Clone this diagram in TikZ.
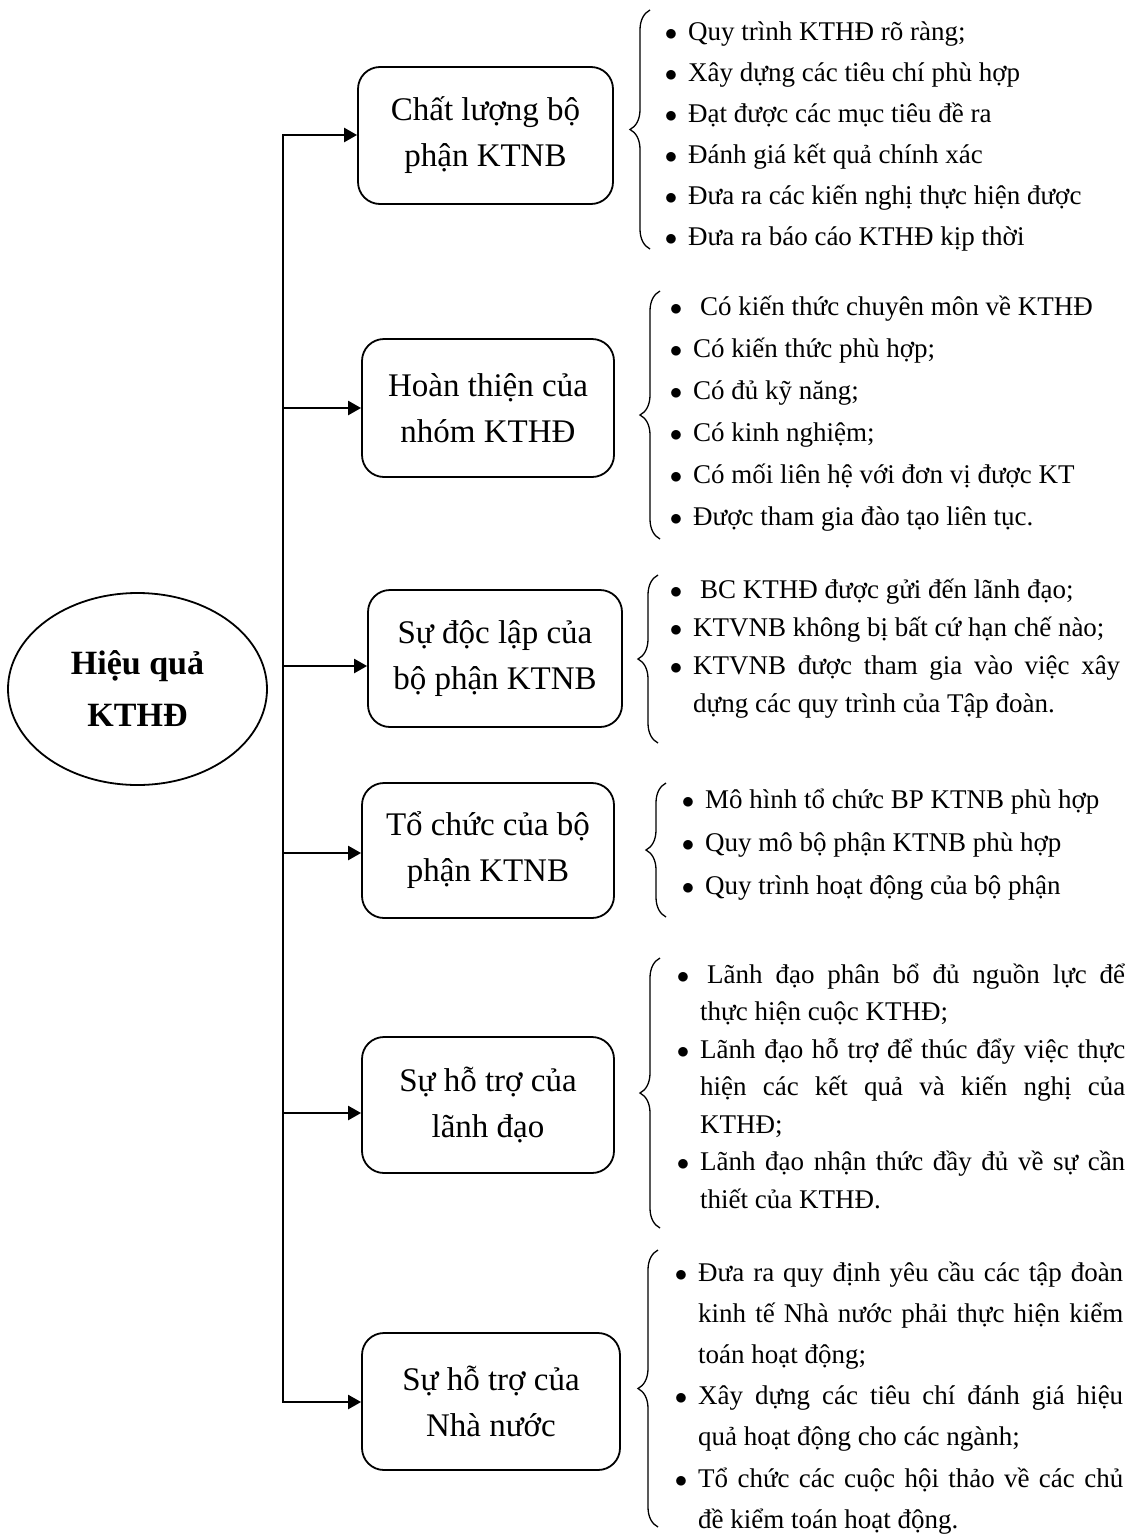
\documentclass[tikz,border=0pt]{standalone}
\usepackage{fontspec}
\setmainfont{Liberation Serif}
\usetikzlibrary{arrows.meta,decorations.pathreplacing,shapes.geometric}
\hyphenpenalty=10000
\exhyphenpenalty=10000
% start of one bullet item: the bullet hangs in the left margin of the list
\newcommand{\bul}{\noindent\llap{$\bullet$\hspace{11pt}}}
\begin{document}
\begin{tikzpicture}[x=1pt,y=-1pt,
  trunk/.style={line width=2.4pt,line cap=rect},
  arr/.style={line width=2.4pt,-{Triangle[length=13pt,width=14pt]}},
  box/.style={draw,line width=1.8pt,rounded corners=22pt,align=center,inner sep=0pt,
    font=\fontsize{33}{46}\selectfont},
  root/.style={draw,ellipse,line width=1.8pt,align=center,inner sep=0pt,
    minimum width=259pt,minimum height=192pt,font=\fontsize{34}{52}\selectfont\bfseries},
  items/.style n args={2}{anchor=base west,inner sep=0pt,text width=#1,align=justify,
    font=\fontsize{27}{#2}\selectfont},
  curly/.style={decorate,decoration={brace,amplitude=20pt},line width=1.3pt}
]
\fill[white] (0,0) rectangle (1134,1537);
\useasboundingbox (0,0) rectangle (1134,1537);

% central ellipse
\node[root] (root) at (137.5,689) {Hiệu quả\\KTHĐ};

% the six factor boxes
\node[box,minimum width=255pt,minimum height=137pt] (b1) at (485.5,135.5) {Chất lượng bộ\\phận KTNB};
\node[box,minimum width=252pt,minimum height=138pt] (b2) at (488,408) {Hoàn thiện của\\nhóm KTHĐ};
\node[box,minimum width=254pt,minimum height=137pt] (b3) at (495,658.5) {Sự độc lập của\\bộ phận KTNB};
\node[box,minimum width=252pt,minimum height=135pt] (b4) at (488,850.5) {Tổ chức của bộ\\phận KTNB};
\node[box,minimum width=252pt,minimum height=136pt] (b5) at (488,1105) {Sự hỗ trợ của\\lãnh đạo};
\node[box,minimum width=258pt,minimum height=137pt] (b6) at (491,1401.5) {Sự hỗ trợ của\\Nhà nước};

% trunk and branch arrows
\coordinate (t1) at (283,135);
\coordinate (t2) at (283,408);
\coordinate (t3) at (283,666);
\coordinate (t4) at (283,853);
\coordinate (t5) at (283,1113);
\coordinate (t6) at (283,1402);
\draw[trunk] (t1) -- (t6);
\foreach \k in {1,...,6}{
  \draw[arr] (t\k) -- (t\k -| b\k.west);
}

% braces
\draw[curly] (650,249) -- (650,10);
\draw[curly] (660,539) -- (660,291);
\draw[curly] (658,743) -- (658,575);
\draw[curly] (666,917) -- (666,783);
\draw[curly] (660,1228) -- (660,958);
\draw[curly] (658,1527) -- (658,1250);

% bullet lists
\node[items={440pt}{41}] (l1) at (688,40) {%
\bul Quy trình KTHĐ rõ ràng;\par
\bul Xây dựng các tiêu chí phù hợp\par
\bul Đạt được các mục tiêu đề ra\par
\bul Đánh giá kết quả chính xác\par
\bul Đưa ra các kiến nghị thực hiện được\par
\bul Đưa ra báo cáo KTHĐ kịp thời};

\node[items={430pt}{42}] (l2) at (693,315) {%
\bul\hspace{7pt}Có kiến thức chuyên môn về KTHĐ\par
\bul Có kiến thức phù hợp;\par
\bul Có đủ kỹ năng;\par
\bul Có kinh nghiệm;\par
\bul Có mối liên hệ với đơn vị được KT\par
\bul Được tham gia đào tạo liên tục.};

\node[items={427pt}{38}] (l3) at (693,598) {%
\bul\hspace{7pt}BC KTHĐ được gửi đến lãnh đạo;\par
\bul KTVNB không bị bất cứ hạn chế nào;\par
\bul KTVNB được tham gia vào việc xây\linebreak dựng các quy trình của Tập đoàn.};

\node[items={420pt}{43}] (l4) at (705,808) {%
\bul Mô hình tổ chức BP KTNB phù hợp\par
\bul Quy mô bộ phận KTNB phù hợp\par
\bul Quy trình hoạt động của bộ phận};

\node[items={425pt}{37.5}] (l5) at (700,983) {%
\bul\hspace{7pt}Lãnh đạo phân bổ đủ nguồn lực để\linebreak thực hiện cuộc KTHĐ;\par
\bul Lãnh đạo hỗ trợ để thúc đẩy việc thực\linebreak hiện các kết quả và kiến nghị của\linebreak KTHĐ;\par
\bul Lãnh đạo nhận thức đầy đủ về sự cần\linebreak thiết của KTHĐ.};

\node[items={425pt}{41.2}] (l6) at (698,1281) {%
\bul Đưa ra quy định yêu cầu các tập đoàn\linebreak kinh tế Nhà nước phải thực hiện kiểm\linebreak toán hoạt động;\par
\bul Xây dựng các tiêu chí đánh giá hiệu\linebreak quả hoạt động cho các ngành;\par
\bul Tổ chức các cuộc hội thảo về các chủ\linebreak đề kiểm toán hoạt động.};
\end{tikzpicture}
\end{document}
